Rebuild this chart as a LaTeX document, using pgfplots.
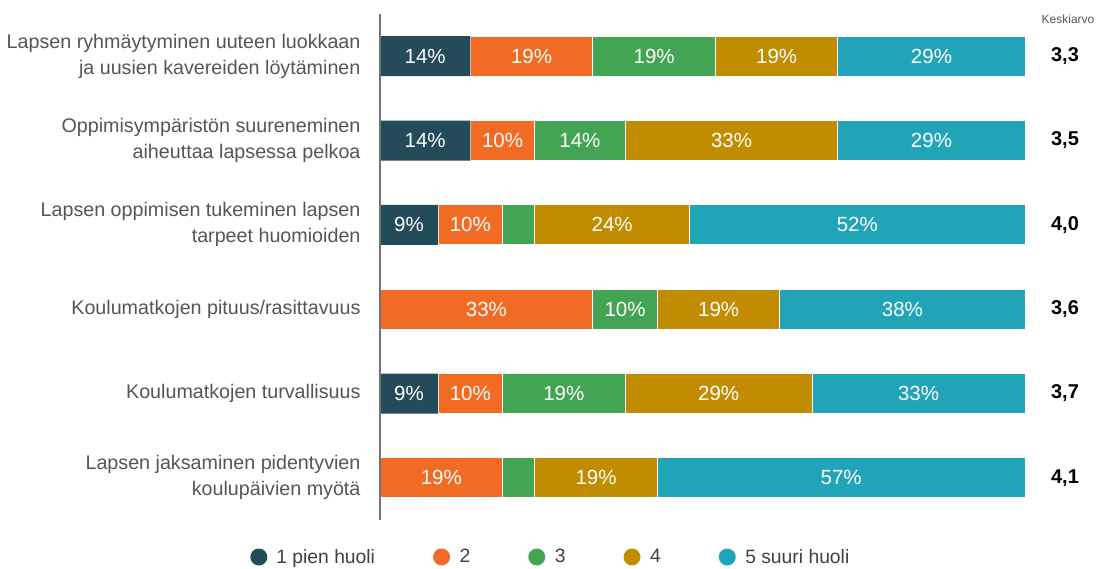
\documentclass[border=0pt]{standalone}
\usepackage{fontspec}
\setmainfont{Liberation Sans}
\usepackage{pgfplots}
\pgfplotsset{compat=1.18}
\definecolor{c1}{HTML}{234B5A}
\definecolor{c2}{HTML}{F26B24}
\definecolor{c3}{HTML}{43A554}
\definecolor{c4}{HTML}{C28C00}
\definecolor{c5}{HTML}{21A3B8}
\definecolor{lab}{HTML}{555555}
\begin{document}
\begin{tikzpicture}
\path[use as bounding box] (0pt,0pt) rectangle (1099pt,568pt);
\begin{axis}[
  at={(380pt,48pt)}, anchor=south west,
  scale only axis, width=645pt, height=506pt,
  xbar stacked, bar width=40pt,
  xmin=0, xmax=100, ymin=0.5, ymax=6.5, y dir=reverse,
  axis x line=none, axis y line*=left,
  axis line style={-, draw=black!55, line width=1.6pt},
  xtick=\empty,
  ytick={1,2,3,4,5,6},
  yticklabels={{Lapsen ryhmäytyminen uuteen luokkaan\\ja uusien kavereiden löytäminen},
    {Oppimisympäristön suureneminen\\aiheuttaa lapsessa pelkoa},
    {Lapsen oppimisen tukeminen lapsen\\tarpeet huomioiden},
    {Koulumatkojen pituus/rasittavuus},
    {Koulumatkojen turvallisuus},
    {Lapsen jaksaminen pidentyvien\\koulupäivien myötä}},
  major tick length=0pt,
  yticklabel style={align=right, font=\fontsize{19.7}{26}\selectfont, text=lab, anchor=east, xshift=-16pt},
  point meta=explicit symbolic,
  nodes near coords,
  every node near coord/.append style={text=white, font=\fontsize{20.5}{20.5}\selectfont},
  clip=false, axis on top,
  legend image code/.code={\fill[#1,draw=none] (0pt,0pt) circle (8.5pt); \path (15.5pt,0pt);},
  legend columns=5,
  legend style={draw=none, fill=none, at={(-0.206,-0.0731)}, anchor=west,
    font=\fontsize{19.3}{19.3}\selectfont, text=black!75,
    /tikz/every even column/.append style={column sep=56pt}},
]
\addplot[fill=c1, draw=none] coordinates {(14,1) [14\%] (14,2) [14\%] (9,3) [9\%] (0,4) [] (9,5) [9\%] (0,6) []};
\addplot[fill=c2, draw=white, line width=1pt] coordinates {(19,1) [19\%] (10,2) [10\%] (10,3) [10\%] (33,4) [33\%] (10,5) [10\%] (19,6) [19\%]};
\addplot[fill=c3, draw=white, line width=1pt] coordinates {(19,1) [19\%] (14,2) [14\%] (5,3) [] (10,4) [10\%] (19,5) [19\%] (5,6) []};
\addplot[fill=c4, draw=white, line width=1pt] coordinates {(19,1) [19\%] (33,2) [33\%] (24,3) [24\%] (19,4) [19\%] (29,5) [29\%] (19,6) [19\%]};
\addplot[fill=c5, draw=white, line width=1pt] coordinates {(29,1) [29\%] (29,2) [29\%] (52,3) [52\%] (38,4) [38\%] (33,5) [33\%] (57,6) [57\%]};
\legend{1 pien huoli, 2, 3, 4, 5 suuri huoli}
\node[font=\fontsize{12}{12}\selectfont, text=lab] at (axis cs:106.67,0.56) {Keskiarvo};
\node[font=\bfseries\fontsize{20}{20}\selectfont] at (axis cs:106.2,1) {3,3};
\node[font=\bfseries\fontsize{20}{20}\selectfont] at (axis cs:106.2,2) {3,5};
\node[font=\bfseries\fontsize{20}{20}\selectfont] at (axis cs:106.2,3) {4,0};
\node[font=\bfseries\fontsize{20}{20}\selectfont] at (axis cs:106.2,4) {3,6};
\node[font=\bfseries\fontsize{20}{20}\selectfont] at (axis cs:106.2,5) {3,7};
\node[font=\bfseries\fontsize{20}{20}\selectfont] at (axis cs:106.2,6) {4,1};
\end{axis}
\end{tikzpicture}
\end{document}
